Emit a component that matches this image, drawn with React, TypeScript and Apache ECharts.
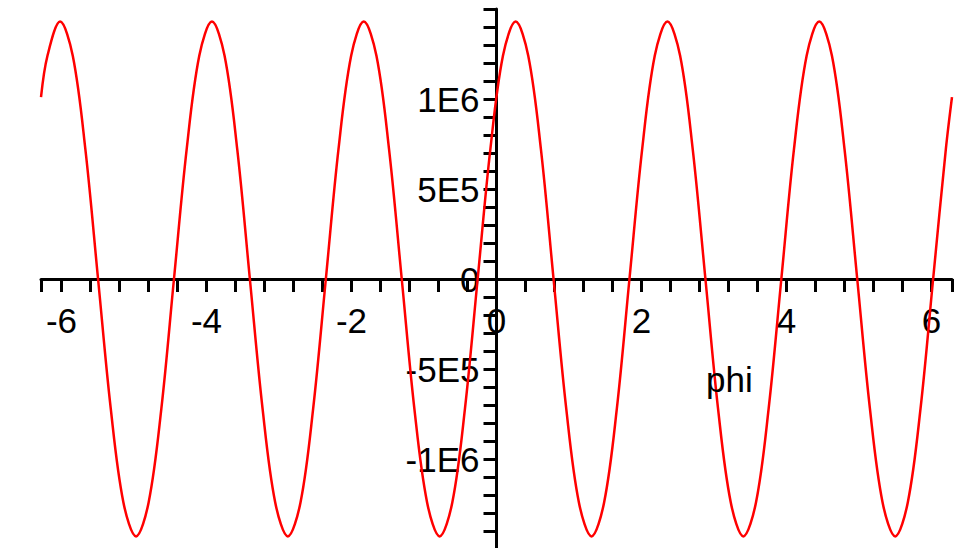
import React, { useEffect, useRef } from "react";
import * as echarts from "echarts";

// phi positions (x) and plotted values (y)
const phi = [
  -6.283, -6.194, -6.02, -5.845, -5.671, -5.496, -5.321, -5.147, -4.972, -4.798, -4.623,
  -4.449, -4.274, -4.1, -3.925, -3.751, -3.576, -3.402, -3.227, -3.053, -2.878, -2.703,
  -2.529, -2.354, -2.18, -2.005, -1.831, -1.656, -1.482, -1.307, -1.133, -0.958, -0.784,
  -0.609, -0.435, -0.26, -0.085, 0.089, 0.264, 0.438, 0.613, 0.787, 0.962, 1.136, 1.311,
  1.485, 1.66, 1.834, 2.009, 2.183, 2.358, 2.533, 2.707, 2.882, 3.056, 3.231, 3.405, 3.58,
  3.754, 3.929, 4.103, 4.278, 4.452, 4.627, 4.801, 4.976, 5.151, 5.325, 5.5, 5.674, 5.849,
  6.023, 6.198, 6.283,
];
const values = [
  1.01e6, 1.24e6, 1.43e6, 1.24e6, 0.72e6, 0, -0.72e6, -1.24e6, -1.43e6, -1.24e6, -0.72e6,
  0, 0.72e6, 1.24e6, 1.43e6, 1.24e6, 0.72e6, 0, -0.72e6, -1.24e6, -1.43e6, -1.24e6,
  -0.72e6, 0, 0.72e6, 1.24e6, 1.43e6, 1.24e6, 0.72e6, 0, -0.72e6, -1.24e6, -1.43e6,
  -1.24e6, -0.72e6, 0, 0.72e6, 1.24e6, 1.43e6, 1.24e6, 0.72e6, 0, -0.72e6, -1.24e6, -1.43e6,
  -1.24e6, -0.72e6, 0, 0.72e6, 1.24e6, 1.43e6, 1.24e6, 0.72e6, 0, -0.72e6, -1.24e6, -1.43e6, -1.24e6,
  -0.72e6, 0, 0.72e6, 1.24e6, 1.43e6, 1.24e6, 0.72e6, 0, -0.72e6, -1.24e6, -1.43e6, -1.24e6, -0.72e6,
  0, 0.72e6, 1.01e6,
];

const xMin = -6.2832;
const xMax = 6.2832;
const xTickValues = [
  -6.2832, -6, -5.6, -5.2, -4.8, -4.4, -4, -3.6, -3.2, -2.8, -2.4, -2, -1.6, -1.2, -0.8, -0.4,
  0, 0.4, 0.8, 1.2, 1.6, 2, 2.4, 2.8, 3.2, 3.6, 4, 4.4, 4.8, 5.2, 5.6, 6, 6.2832,
];
const xLabelValues = [-6, -4, -2, 0, 2, 4, 6];

const yMin = -1.5e6;
const yMax = 1.5e6;
const yTickStep = 1e5;
const yLabelValues = [-1e6, -5e5, 0, 5e5, 1e6];
const yLabelTexts = ["-1E6", "-5E5", "0", "5E5", "1E6"];

const axisName = "phi";

export default function App() {
  const ref = useRef<HTMLDivElement>(null);
  useEffect(() => {
    if (!ref.current) return;
    const chart = echarts.init(ref.current, undefined, { renderer: "svg" });
    const font = { fontFamily: "Liberation Sans, Arial, sans-serif", fontSize: 35, color: "#000" };
    const W = 979;
    const H = 548;
    const gl = 41, gr = 27, gt = 9, gb = -1;
    const gw = W - gl - gr;
    const gh = H - gt - gb;
    // pixel distances from grid edges to the zero lines (computed from the axis scales)
    const zeroX = gl + ((0 - xMin) / (xMax - xMin)) * gw;
    const zeroY = gt + ((yMax - 0) / (yMax - yMin)) * gh;
    chart.setOption({
      animation: false,
      backgroundColor: "#fff",
      grid: { left: gl, right: gr, top: gt, bottom: gb, containLabel: false, outerBoundsMode: "none" },
      xAxis: {
        type: "value",
        min: xMin,
        max: xMax,
        position: "bottom",
        offset: -(gt + gh - zeroY),
        axisLine: { show: true, onZero: false, lineStyle: { color: "#000", width: 3 } },
        axisTick: { show: true, inside: false, length: 13, customValues: xTickValues, lineStyle: { color: "#000", width: 3 } },
        axisLabel: { ...font, margin: 24, customValues: xLabelValues, formatter: (v: number) => String(v) },
        splitLine: { show: false },
      },
      yAxis: {
        type: "value",
        min: yMin,
        max: yMax,
        interval: yTickStep,
        position: "left",
        offset: -(zeroX - gl),
        axisLine: { show: true, onZero: false, lineStyle: { color: "#000", width: 3 } },
        axisTick: { show: true, inside: false, length: 13, lineStyle: { color: "#000", width: 3 } },
        axisLabel: {
          ...font,
          margin: 17,
          customValues: yLabelValues,
          formatter: (v: number) => {
            const i = yLabelValues.findIndex((t) => Math.abs(t - v) < 1);
            return i >= 0 ? yLabelTexts[i] : "";
          },
        },
        splitLine: { show: false },
      },
      graphic: [
        {
          type: "text",
          left: 706,
          top: 362,
          style: { text: axisName, fill: "#000", font: "35px 'Liberation Sans', Arial, sans-serif" },
          z: 10,
        },
      ],
      series: [
        {
          type: "line",
          data: phi.map((p, i) => [p, values[i]]),
          smooth: 0.35,
          symbol: "none",
          lineStyle: { color: "#ff0000", width: 2.5 },
          z: 3,
        },
      ],
    });
    return () => chart.dispose();
  }, []);
  return <div ref={ref} style={{ position: "absolute", left: 0, top: 0, width: 979, height: 548 }} />;
}
